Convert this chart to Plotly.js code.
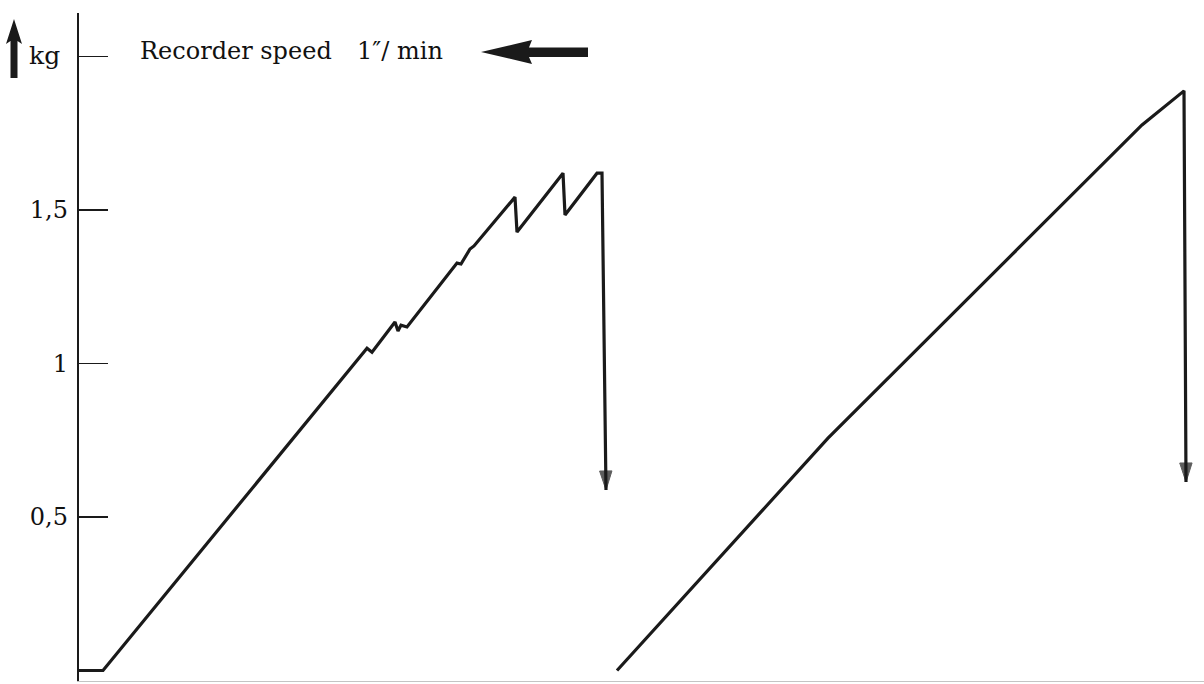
<!DOCTYPE html>
<html>
<head>
<meta charset="utf-8">
<script src="https://cdn.plot.ly/plotly-3.0.1.min.js"></script>
<style>
  html, body { margin: 0; padding: 0; background: #ffffff; }
  #chart { width: 1204px; height: 684px; }
</style>
</head>
<body>
<div id="chart"></div>
<script>
// ---- data (chart-paper travel, arbitrary units; load in kg) ----
var trace1X = [0, 24, 288, 293, 316, 319, 322, 328, 378, 382, 391, 395, 436, 438, 484, 486, 518, 523, 527];
var trace1Y = [0, 0, 1.050, 1.037, 1.135, 1.106, 1.125, 1.119, 1.327, 1.324, 1.373, 1.383, 1.542, 1.428, 1.620, 1.484, 1.620, 1.620, 0.588];
var trace2X = [538, 749, 1063, 1105, 1107];
var trace2Y = [0, 0.757, 1.777, 1.888, 0.614];
var tickValues = [0.5, 1, 1.5, 2];
var tickLabels = ['0,5', '1', '1,5', ''];
var unitLabel = 'kg';
var titleLeft = 'Recorder speed';
var titleRight = '1\u2033/ min';

// ---- layout geometry ----
var W = 1204, H = 684;
var M = {l: 79, r: 0, t: 13, b: 3};
var PW = W - M.l - M.r, PH = H - M.t - M.b;
function px(x) { return (x - M.l) / PW; }
function py(y) { return (H - M.b - y) / PH; }
function path(pts) {
  return pts.map(function (p, i) { return (i ? 'L' : 'M') + px(p[0]).toFixed(5) + ',' + py(p[1]).toFixed(5); }).join(' ') + ' Z';
}
var ink = '#1a1a1a';
var serif = 'DejaVu Serif, Liberation Serif, serif';

function arrowSizes(n) { var s = []; for (var i = 0; i < n; i++) s.push(i === n - 1 ? 20 : 0); return s; }

var traces = [
  {x: trace1X, y: trace1Y, type: 'scatter', mode: 'lines+markers',
   line: {color: ink, width: 3.2, backoff: 0},
   marker: {symbol: 'arrow', angleref: 'previous', size: arrowSizes(trace1X.length), color: ink,
            line: {width: 1, color: ink}},
   hoverinfo: 'skip', showlegend: false, cliponaxis: false},
  {x: trace2X, y: trace2Y, type: 'scatter', mode: 'lines+markers',
   line: {color: ink, width: 3.2, backoff: 0},
   marker: {symbol: 'arrow', angleref: 'previous', size: arrowSizes(trace2X.length), color: ink,
            line: {width: 1, color: ink}},
   hoverinfo: 'skip', showlegend: false, cliponaxis: false}
];

// y: 0 kg at pixel 670.5, 307 px per kg
var y0 = 670.5, k = 307;
var yRange = [(y0 - (H - M.b)) / k, (y0 - M.t) / k];
var shift = 0.016;

var layout = {
  width: W, height: H,
  margin: M,
  paper_bgcolor: '#ffffff', plot_bgcolor: '#ffffff',
  showlegend: false,
  xaxis: {range: [0, PW], showgrid: false, zeroline: false, showticklabels: false, ticks: '',
          showline: true, linecolor: '#c4c4c4', linewidth: 1, fixedrange: true},
  xaxis2: {range: [0, PW], overlaying: 'x', side: 'top', showgrid: false, zeroline: false,
           showticklabels: false, ticks: '', showline: true, linecolor: ink, linewidth: 2},
  yaxis: {range: yRange, showgrid: false, zeroline: false, showline: true, linecolor: ink, linewidth: 2.2,
          ticks: 'inside', ticklen: 29, tickwidth: 1.6, tickcolor: ink,
          tickmode: 'array', tickvals: tickValues, ticktext: tickLabels,
          tickfont: {family: serif, size: 24, color: '#111'}, ticklabelstandoff: 4},
  yaxis2: {range: [yRange[0] - shift, yRange[1] - shift], overlaying: 'y', side: 'right',
           showgrid: false, zeroline: false, showline: false, showticklabels: false,
           ticks: 'inside', ticklen: 20, tickwidth: 1.6, tickcolor: ink,
           tickmode: 'array', tickvals: tickValues},
  annotations: [
    {text: unitLabel, xref: 'paper', yref: 'paper', x: px(62), y: py(55), xanchor: 'right', yanchor: 'middle',
     showarrow: false, font: {family: serif, size: 25, color: '#111'}},
    {text: titleLeft, xref: 'paper', yref: 'paper', x: px(138), y: py(51), xanchor: 'left', yanchor: 'middle',
     showarrow: false, font: {family: serif, size: 24, color: '#111'}},
    {text: titleRight, xref: 'paper', yref: 'paper', x: px(355), y: py(51), xanchor: 'left', yanchor: 'middle',
     showarrow: false, font: {family: serif, size: 24, color: '#111'}}
  ],
  shapes: [
    // left-pointing arrow after the title
    {type: 'path', xref: 'paper', yref: 'paper', fillcolor: ink, line: {width: 0},
     path: path([[481, 52], [532, 40], [529, 47.5], [588, 47.5], [588, 57], [529, 57], [532, 64]])},
    // upward arrow beside the unit label
    {type: 'path', xref: 'paper', yref: 'paper', fillcolor: ink, line: {width: 0},
     path: path([[14, 19], [22, 44], [17.5, 41], [17.5, 78], [10.5, 78], [10.5, 41], [6, 44]])}
  ]
};

Plotly.newPlot('chart', traces, layout, {displayModeBar: false, staticPlot: true});
</script>
</body>
</html>
